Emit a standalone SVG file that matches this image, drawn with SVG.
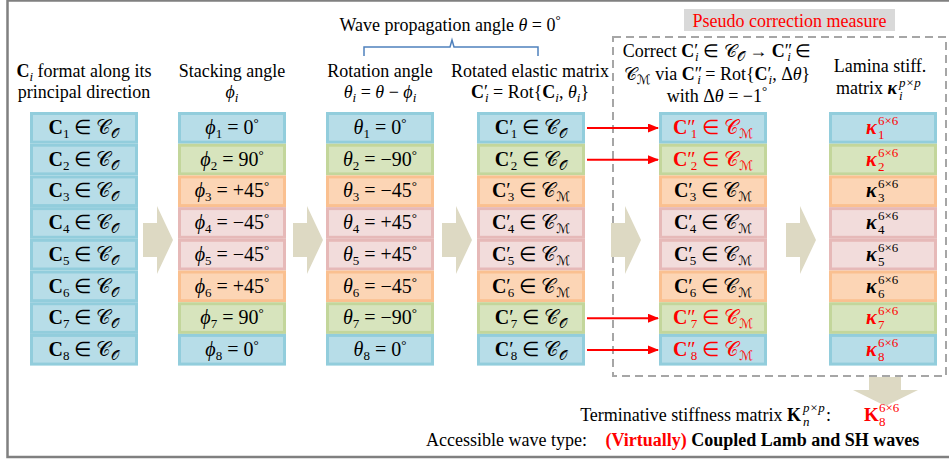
<svg xmlns="http://www.w3.org/2000/svg" width="949" height="462" viewBox="0 0 949 462">
<style>
text{font-family:"Liberation Serif","Times New Roman",serif;fill:#000}
.h{font-size:18px;text-anchor:middle}
.m{font-size:20px;text-anchor:middle}
.i{font-style:italic}
.b{font-weight:bold}
.s{font-size:13px}
.red{fill:#ff0000}
.sc{font-family:"DejaVu Serif","DejaVu Sans","Noto Sans",serif;font-style:normal}
rect.blue{fill:#b7dde8;stroke:#92cddc}
rect.green{fill:#d7e4bd;stroke:#c3d69b}
rect.orange{fill:#fcd5b5;stroke:#fac090}
rect.pink{fill:#f2dcdb;stroke:#e6b9b8}
rect.cell{stroke-width:3}
.blk{fill:#ddd9c3}
.ra{stroke:#ff0000;stroke-width:2;fill:none}
</style>
<defs>
<marker id="ah" markerWidth="11" markerHeight="9" refX="10" refY="4.5" orient="auto" markerUnits="userSpaceOnUse">
<path d="M0,0 L11,4.5 L0,9 Z" fill="#ff0000"/>
</marker>
<g id="cells">
<rect class="cell blue" x="1.5" y="1.5" width="105" height="28.7"/>
<rect class="cell green" x="1.5" y="33.2" width="105" height="28.7"/>
<rect class="cell orange" x="1.5" y="64.9" width="105" height="28.7"/>
<rect class="cell pink" x="1.5" y="96.6" width="105" height="28.7"/>
<rect class="cell pink" x="1.5" y="128.3" width="105" height="28.7"/>
<rect class="cell orange" x="1.5" y="160" width="105" height="28.7"/>
<rect class="cell green" x="1.5" y="191.7" width="105" height="28.7"/>
<rect class="cell blue" x="1.5" y="223.4" width="105" height="28.7"/>
</g>
<path id="bigarrow" d="M0,17 H14 V0 L30,34 L14,68 V51 H0 Z"/>
</defs>

<rect x="7.5" y="0.5" width="950" height="456.5" fill="none" stroke="#808080" stroke-width="2.5"/>

<g id="pseudo">
<rect x="613" y="37" width="333" height="339" fill="none" stroke="#a6a6a6" stroke-width="2" stroke-dasharray="8,5"/>
<rect x="684" y="9" width="211" height="22" fill="#d9d9d9"/>
<text x="789.5" y="27" class="h red">Pseudo correction measure</text>
</g>

<g id="wave">
<text x="450" y="31" class="h">Wave propagation angle <tspan class="i">θ</tspan> = 0<tspan class="s" dy="-7">°</tspan></text>
<path d="M364,56 V47 H450 L452,40 L454,47 H538 V56" fill="none" stroke="#4f81bd" stroke-width="1.5"/>
</g>

<g id="col1">
<text x="84" y="77" class="h"><tspan class="b">C</tspan><tspan class="i s" dy="4">i</tspan><tspan dy="-4"> format along its</tspan></text>
<text x="84" y="98" class="h">principal direction</text>
<rect class="cell blue" x="31.5" y="113.5" width="105" height="28.7"/>
<rect class="cell blue" x="31.5" y="145.2" width="105" height="28.7"/>
<rect class="cell blue" x="31.5" y="176.9" width="105" height="28.7"/>
<rect class="cell blue" x="31.5" y="208.6" width="105" height="28.7"/>
<rect class="cell blue" x="31.5" y="240.3" width="105" height="28.7"/>
<rect class="cell blue" x="31.5" y="272" width="105" height="28.7"/>
<rect class="cell blue" x="31.5" y="303.7" width="105" height="28.7"/>
<rect class="cell blue" x="31.5" y="335.4" width="105" height="28.7"/>
<g class="m">
<text x="84" y="134"><tspan class="b">C</tspan><tspan class="s" dy="4">1</tspan><tspan dy="-4"> ∈ </tspan><tspan class="sc">𝒞</tspan><tspan class="sc s" dy="4">𝒪</tspan></text>
<text x="84" y="165.7"><tspan class="b">C</tspan><tspan class="s" dy="4">2</tspan><tspan dy="-4"> ∈ </tspan><tspan class="sc">𝒞</tspan><tspan class="sc s" dy="4">𝒪</tspan></text>
<text x="84" y="197.4"><tspan class="b">C</tspan><tspan class="s" dy="4">3</tspan><tspan dy="-4"> ∈ </tspan><tspan class="sc">𝒞</tspan><tspan class="sc s" dy="4">𝒪</tspan></text>
<text x="84" y="229.1"><tspan class="b">C</tspan><tspan class="s" dy="4">4</tspan><tspan dy="-4"> ∈ </tspan><tspan class="sc">𝒞</tspan><tspan class="sc s" dy="4">𝒪</tspan></text>
<text x="84" y="260.8"><tspan class="b">C</tspan><tspan class="s" dy="4">5</tspan><tspan dy="-4"> ∈ </tspan><tspan class="sc">𝒞</tspan><tspan class="sc s" dy="4">𝒪</tspan></text>
<text x="84" y="292.5"><tspan class="b">C</tspan><tspan class="s" dy="4">6</tspan><tspan dy="-4"> ∈ </tspan><tspan class="sc">𝒞</tspan><tspan class="sc s" dy="4">𝒪</tspan></text>
<text x="84" y="324.2"><tspan class="b">C</tspan><tspan class="s" dy="4">7</tspan><tspan dy="-4"> ∈ </tspan><tspan class="sc">𝒞</tspan><tspan class="sc s" dy="4">𝒪</tspan></text>
<text x="84" y="355.9"><tspan class="b">C</tspan><tspan class="s" dy="4">8</tspan><tspan dy="-4"> ∈ </tspan><tspan class="sc">𝒞</tspan><tspan class="sc s" dy="4">𝒪</tspan></text>
</g>
</g>

<g id="col2">
<text x="232" y="77" class="h">Stacking angle</text>
<text x="232" y="98" class="h"><tspan class="i">ϕ</tspan><tspan class="i s" dy="4">i</tspan></text>
<use href="#cells" x="178" y="112"/>
<g class="m">
<text x="232" y="134"><tspan class="i">ϕ</tspan><tspan class="s" dy="4">1</tspan><tspan dy="-4"> = 0</tspan><tspan class="s" dy="-7">°</tspan></text>
<text x="232" y="165.7"><tspan class="i">ϕ</tspan><tspan class="s" dy="4">2</tspan><tspan dy="-4"> = 90</tspan><tspan class="s" dy="-7">°</tspan></text>
<text x="232" y="197.4"><tspan class="i">ϕ</tspan><tspan class="s" dy="4">3</tspan><tspan dy="-4"> = +45</tspan><tspan class="s" dy="-7">°</tspan></text>
<text x="232" y="229.1"><tspan class="i">ϕ</tspan><tspan class="s" dy="4">4</tspan><tspan dy="-4"> = −45</tspan><tspan class="s" dy="-7">°</tspan></text>
<text x="232" y="260.8"><tspan class="i">ϕ</tspan><tspan class="s" dy="4">5</tspan><tspan dy="-4"> = −45</tspan><tspan class="s" dy="-7">°</tspan></text>
<text x="232" y="292.5"><tspan class="i">ϕ</tspan><tspan class="s" dy="4">6</tspan><tspan dy="-4"> = +45</tspan><tspan class="s" dy="-7">°</tspan></text>
<text x="232" y="324.2"><tspan class="i">ϕ</tspan><tspan class="s" dy="4">7</tspan><tspan dy="-4"> = 90</tspan><tspan class="s" dy="-7">°</tspan></text>
<text x="232" y="355.9"><tspan class="i">ϕ</tspan><tspan class="s" dy="4">8</tspan><tspan dy="-4"> = 0</tspan><tspan class="s" dy="-7">°</tspan></text>
</g>
</g>

<g id="col3">
<text x="380" y="77" class="h">Rotation angle</text>
<text x="380" y="98" class="h"><tspan class="i">θ</tspan><tspan class="i s" dy="4">i</tspan><tspan dy="-4"> = </tspan><tspan class="i">θ</tspan><tspan> − </tspan><tspan class="i">ϕ</tspan><tspan class="i s" dy="4">i</tspan></text>
<use href="#cells" x="326" y="112"/>
<g class="m">
<text x="380" y="134"><tspan class="i">θ</tspan><tspan class="s" dy="4">1</tspan><tspan dy="-4"> = 0</tspan><tspan class="s" dy="-7">°</tspan></text>
<text x="380" y="165.7"><tspan class="i">θ</tspan><tspan class="s" dy="4">2</tspan><tspan dy="-4"> = −90</tspan><tspan class="s" dy="-7">°</tspan></text>
<text x="380" y="197.4"><tspan class="i">θ</tspan><tspan class="s" dy="4">3</tspan><tspan dy="-4"> = −45</tspan><tspan class="s" dy="-7">°</tspan></text>
<text x="380" y="229.1"><tspan class="i">θ</tspan><tspan class="s" dy="4">4</tspan><tspan dy="-4"> = +45</tspan><tspan class="s" dy="-7">°</tspan></text>
<text x="380" y="260.8"><tspan class="i">θ</tspan><tspan class="s" dy="4">5</tspan><tspan dy="-4"> = +45</tspan><tspan class="s" dy="-7">°</tspan></text>
<text x="380" y="292.5"><tspan class="i">θ</tspan><tspan class="s" dy="4">6</tspan><tspan dy="-4"> = −45</tspan><tspan class="s" dy="-7">°</tspan></text>
<text x="380" y="324.2"><tspan class="i">θ</tspan><tspan class="s" dy="4">7</tspan><tspan dy="-4"> = −90</tspan><tspan class="s" dy="-7">°</tspan></text>
<text x="380" y="355.9"><tspan class="i">θ</tspan><tspan class="s" dy="4">8</tspan><tspan dy="-4"> = 0</tspan><tspan class="s" dy="-7">°</tspan></text>
</g>
</g>

<g id="col4">
<text x="530" y="77" class="h">Rotated elastic matrix</text>
<text x="530" y="98" class="h"><tspan class="b">C</tspan><tspan>′</tspan><tspan class="i s" dx="-3" dy="4">i</tspan><tspan dy="-4"> = Rot{</tspan><tspan class="b">C</tspan><tspan class="i s" dy="4">i</tspan><tspan dy="-4">, </tspan><tspan class="i">θ</tspan><tspan class="i s" dy="4">i</tspan><tspan dy="-4">}</tspan></text>
<use href="#cells" x="477" y="112"/>
<g class="m">
<text x="531" y="134"><tspan class="b">C</tspan><tspan>′</tspan><tspan class="s" dx="-3" dy="4">1</tspan><tspan dy="-4"> ∈ </tspan><tspan class="sc">𝒞</tspan><tspan class="sc s" dy="4">𝒪</tspan></text>
<text x="531" y="165.7"><tspan class="b">C</tspan><tspan>′</tspan><tspan class="s" dx="-3" dy="4">2</tspan><tspan dy="-4"> ∈ </tspan><tspan class="sc">𝒞</tspan><tspan class="sc s" dy="4">𝒪</tspan></text>
<text x="531" y="197.4"><tspan class="b">C</tspan><tspan>′</tspan><tspan class="s" dx="-3" dy="4">3</tspan><tspan dy="-4"> ∈ </tspan><tspan class="sc">𝒞</tspan><tspan class="sc s" dy="4">ℳ</tspan></text>
<text x="531" y="229.1"><tspan class="b">C</tspan><tspan>′</tspan><tspan class="s" dx="-3" dy="4">4</tspan><tspan dy="-4"> ∈ </tspan><tspan class="sc">𝒞</tspan><tspan class="sc s" dy="4">ℳ</tspan></text>
<text x="531" y="260.8"><tspan class="b">C</tspan><tspan>′</tspan><tspan class="s" dx="-3" dy="4">5</tspan><tspan dy="-4"> ∈ </tspan><tspan class="sc">𝒞</tspan><tspan class="sc s" dy="4">ℳ</tspan></text>
<text x="531" y="292.5"><tspan class="b">C</tspan><tspan>′</tspan><tspan class="s" dx="-3" dy="4">6</tspan><tspan dy="-4"> ∈ </tspan><tspan class="sc">𝒞</tspan><tspan class="sc s" dy="4">ℳ</tspan></text>
<text x="531" y="324.2"><tspan class="b">C</tspan><tspan>′</tspan><tspan class="s" dx="-3" dy="4">7</tspan><tspan dy="-4"> ∈ </tspan><tspan class="sc">𝒞</tspan><tspan class="sc s" dy="4">𝒪</tspan></text>
<text x="531" y="355.9"><tspan class="b">C</tspan><tspan>′</tspan><tspan class="s" dx="-3" dy="4">8</tspan><tspan dy="-4"> ∈ </tspan><tspan class="sc">𝒞</tspan><tspan class="sc s" dy="4">𝒪</tspan></text>
</g>
</g>

<g id="col5">
<text x="717" y="57" class="h">Correct <tspan class="b">C</tspan><tspan>′</tspan><tspan class="i s" dx="-3" dy="4">i</tspan><tspan dy="-4"> ∈ </tspan><tspan class="sc">𝒞</tspan><tspan class="sc s" dy="4">𝒪</tspan><tspan dy="-4"> → </tspan><tspan class="b">C</tspan><tspan>″</tspan><tspan class="i s" dx="-5" dy="4">i</tspan><tspan dy="-4"> ∈</tspan></text>
<text x="717" y="80" class="h"><tspan class="sc">𝒞</tspan><tspan class="sc s" dy="4">ℳ</tspan><tspan dy="-4"> via </tspan><tspan class="b">C</tspan><tspan>″</tspan><tspan class="i s" dx="-5" dy="4">i</tspan><tspan dy="-4"> = Rot{</tspan><tspan class="b">C</tspan><tspan>′</tspan><tspan class="i s" dx="-3" dy="4">i</tspan><tspan dy="-4">, Δ</tspan><tspan class="i">θ</tspan><tspan>}</tspan></text>
<text x="717" y="102" class="h">with Δ<tspan class="i">θ</tspan> = −1<tspan class="s" dy="-7">°</tspan></text>
<use href="#cells" x="659" y="112"/>
<g class="m">
<text x="713" y="134" class="red"><tspan class="b">C</tspan><tspan>″</tspan><tspan class="s" dx="-5" dy="4">1</tspan><tspan dy="-4"> ∈ </tspan><tspan class="sc">𝒞</tspan><tspan class="sc s" dy="4">ℳ</tspan></text>
<text x="713" y="165.7" class="red"><tspan class="b">C</tspan><tspan>″</tspan><tspan class="s" dx="-5" dy="4">2</tspan><tspan dy="-4"> ∈ </tspan><tspan class="sc">𝒞</tspan><tspan class="sc s" dy="4">ℳ</tspan></text>
<text x="713" y="197.4"><tspan class="b">C</tspan><tspan>′</tspan><tspan class="s" dx="-3" dy="4">3</tspan><tspan dy="-4"> ∈ </tspan><tspan class="sc">𝒞</tspan><tspan class="sc s" dy="4">ℳ</tspan></text>
<text x="713" y="229.1"><tspan class="b">C</tspan><tspan>′</tspan><tspan class="s" dx="-3" dy="4">4</tspan><tspan dy="-4"> ∈ </tspan><tspan class="sc">𝒞</tspan><tspan class="sc s" dy="4">ℳ</tspan></text>
<text x="713" y="260.8"><tspan class="b">C</tspan><tspan>′</tspan><tspan class="s" dx="-3" dy="4">5</tspan><tspan dy="-4"> ∈ </tspan><tspan class="sc">𝒞</tspan><tspan class="sc s" dy="4">ℳ</tspan></text>
<text x="713" y="292.5"><tspan class="b">C</tspan><tspan>′</tspan><tspan class="s" dx="-3" dy="4">6</tspan><tspan dy="-4"> ∈ </tspan><tspan class="sc">𝒞</tspan><tspan class="sc s" dy="4">ℳ</tspan></text>
<text x="713" y="324.2" class="red"><tspan class="b">C</tspan><tspan>″</tspan><tspan class="s" dx="-5" dy="4">7</tspan><tspan dy="-4"> ∈ </tspan><tspan class="sc">𝒞</tspan><tspan class="sc s" dy="4">ℳ</tspan></text>
<text x="713" y="355.9" class="red"><tspan class="b">C</tspan><tspan>″</tspan><tspan class="s" dx="-5" dy="4">8</tspan><tspan dy="-4"> ∈ </tspan><tspan class="sc">𝒞</tspan><tspan class="sc s" dy="4">ℳ</tspan></text>
</g>
</g>

<g id="col6">
<text x="880" y="72" class="h">Lamina stiff.</text>
<text x="836" y="94" style="font-size:18px">matrix <tspan class="b i">κ</tspan></text>
<text x="899" y="87" class="i s">p×p</text>
<text x="899" y="100" class="i s">i</text>
<use href="#cells" x="829" y="112"/>
<g style="font-size:20px">
<text x="866" y="134" class="b i red">κ</text><text x="878" y="125" class="s red">6×6</text><text x="878" y="139" class="s red">1</text>
<text x="866" y="165.7" class="b i red">κ</text><text x="878" y="156.7" class="s red">6×6</text><text x="878" y="170.7" class="s red">2</text>
<text x="866" y="197.4" class="b i">κ</text><text x="878" y="188.4" class="s">6×6</text><text x="878" y="202.4" class="s">3</text>
<text x="866" y="229.1" class="b i">κ</text><text x="878" y="220.1" class="s">6×6</text><text x="878" y="234.1" class="s">4</text>
<text x="866" y="260.8" class="b i">κ</text><text x="878" y="251.8" class="s">6×6</text><text x="878" y="265.8" class="s">5</text>
<text x="866" y="292.5" class="b i">κ</text><text x="878" y="283.5" class="s">6×6</text><text x="878" y="297.5" class="s">6</text>
<text x="866" y="324.2" class="b i red">κ</text><text x="878" y="315.2" class="s red">6×6</text><text x="878" y="329.2" class="s red">7</text>
<text x="866" y="355.9" class="b i red">κ</text><text x="878" y="346.9" class="s red">6×6</text><text x="878" y="360.9" class="s red">8</text>
</g>
</g>

<g id="blockarrows" class="blk">
<use href="#bigarrow" x="143" y="206"/>
<use href="#bigarrow" x="293" y="206"/>
<use href="#bigarrow" x="442" y="206"/>
<use href="#bigarrow" x="611" y="206"/>
<use href="#bigarrow" x="786" y="206"/>
<path d="M869,377 H901 V390 H918 L885.5,406 L853,390 H869 Z"/>
</g>

<g id="connectors">
<line class="ra" x1="587" y1="128" x2="658" y2="128" marker-end="url(#ah)"/>
<line class="ra" x1="587" y1="159.7" x2="658" y2="159.7" marker-end="url(#ah)"/>
<line class="ra" x1="587" y1="318.2" x2="658" y2="318.2" marker-end="url(#ah)"/>
<line class="ra" x1="587" y1="349.9" x2="658" y2="349.9" marker-end="url(#ah)"/>
</g>

<g id="bottom">
<text x="801" y="421" style="font-size:18px;text-anchor:end">Terminative stiffness matrix <tspan class="b">K</tspan></text>
<text x="803" y="412" class="i s">p×p</text>
<text x="803" y="426" class="i s">n</text>
<text x="826" y="421" style="font-size:18px">:</text>
<text x="864" y="421" class="b red" style="font-size:19px">K</text>
<text x="879" y="412" class="s red">6×6</text>
<text x="879" y="426" class="s red">8</text>
<text x="426" y="446" style="font-size:18px">Accessible wave type: <tspan dx="14" class="b red">(Virtually)</tspan><tspan class="b"> Coupled Lamb and SH waves</tspan></text>
</g>
</svg>
